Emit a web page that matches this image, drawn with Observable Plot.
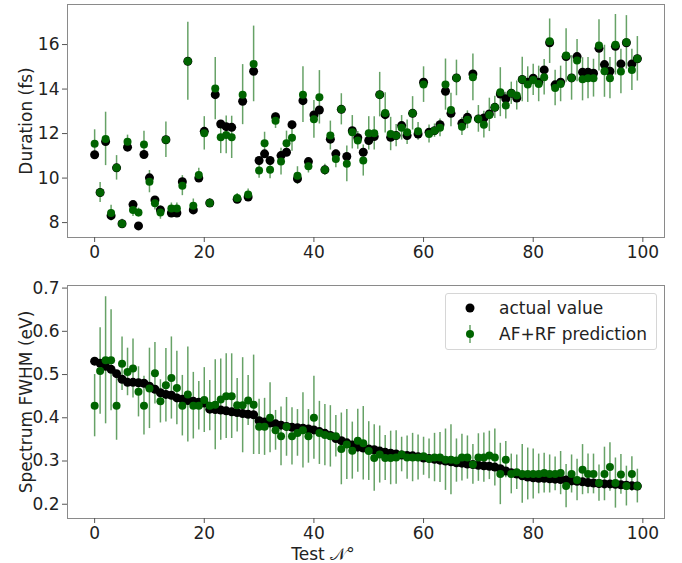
<!DOCTYPE html>
<html><head><meta charset="utf-8">
<script src="https://cdn.jsdelivr.net/npm/d3@7"></script>
<script src="https://cdn.jsdelivr.net/npm/@observablehq/plot@0.6"></script>
<style>
body{margin:0;background:#fff;font-family:"DejaVu Sans",sans-serif;}
#wrap{position:relative;width:682px;height:563px;overflow:hidden;}
#wrap > svg{position:absolute;left:0;}
.legend{position:absolute;left:445px;top:293px;width:210px;height:55px;border:1px solid #d6d6d6;border-radius:3px;background:#fff;font-size:17px;color:#222;}
.legend .row{position:absolute;left:0;height:22px;line-height:22px;white-space:nowrap;}
.legend svg{position:absolute;left:14px;top:0;}
.legend span{position:absolute;left:53px;top:0;}
</style></head>
<body>
<div id="wrap"></div>
<script>
const testNo = d3.range(100);
const xTicks = [0, 20, 40, 60, 80, 100];
const durTicks = [8, 10, 12, 14, 16];
const fwhmTicks = [0.2, 0.3, 0.4, 0.5, 0.6, 0.7];

// Duration (fs): actual values
const durActual = [11.05,9.35,11.64,8.31,10.46,7.95,11.39,8.81,7.85,11.06,
10.01,9.02,8.57,11.72,8.43,8.43,9.84,15.25,8.57,10.0,
12.1,8.88,13.75,12.43,12.31,12.28,9.05,13.45,9.15,14.8,
10.79,11.09,10.79,12.76,11.01,11.16,12.4,9.97,13.48,10.74,
12.84,13.06,10.37,11.75,11.09,13.09,10.97,12.13,11.81,11.16,
11.69,11.87,13.75,12.85,11.83,11.91,12.36,11.91,12.91,11.98,
14.31,12.06,12.13,12.4,13.9,12.91,14.5,12.46,12.73,14.68,
12.66,12.7,12.88,13.18,13.78,13.56,13.81,13.6,14.43,14.31,
14.49,14.31,14.86,16.08,14.19,14.31,15.46,14.5,15.46,14.76,
14.76,14.71,15.83,15.1,14.8,15.92,15.13,16.08,15.13,15.36];
// Duration (fs): AF+RF prediction
const durPred = [11.54,9.35,11.76,8.43,10.46,7.95,11.63,8.57,8.45,11.51,
9.84,8.87,8.45,11.72,8.63,8.63,9.66,15.25,8.76,10.14,
12.01,8.88,14.02,11.83,11.94,11.83,9.11,13.75,9.26,15.13,
10.34,11.56,10.37,12.58,10.74,11.56,11.81,10.11,13.75,10.53,
12.64,13.63,10.37,11.91,10.86,13.09,10.64,12.06,11.69,10.79,
12.01,12.01,13.75,12.93,11.98,11.91,12.26,12.06,12.91,12.1,
14.2,11.98,12.13,12.26,14.2,13.06,14.5,12.31,12.62,14.53,
12.66,12.4,12.84,13.18,13.86,13.26,13.81,13.71,14.43,14.2,
14.41,14.23,14.53,16.15,14.05,14.23,15.51,14.5,15.28,14.44,
14.49,14.49,15.96,14.8,14.49,15.99,14.79,16.1,14.86,15.36];
// Duration (fs): prediction uncertainty (half-length)
const durErr = [0.63,0.45,1.2,0.35,0.55,0.2,0.3,0.3,0.2,0.6,
0.5,0.3,0.3,0.8,0.25,0.25,0.45,1.75,0.3,0.3,
0.75,0.2,1.4,0.73,0.85,0.95,0.2,1.35,0.25,1.7,
0.35,0.5,0.4,0.35,0.6,0.55,0.6,0.4,1.25,0.3,
0.85,1.2,0.25,0.65,0.4,0.7,0.8,0.75,0.4,0.7,
0.75,0.75,1.0,0.9,0.75,0.5,0.55,0.55,0.75,0.4,
0.8,0.4,0.3,0.4,1.15,0.75,0.8,0.4,0.4,1.05,
0.6,0.6,0.75,0.5,1.1,0.6,0.5,0.65,1.0,0.8,
0.7,0.8,0.8,1.0,0.8,0.8,1.2,1.0,0.95,0.97,
0.93,0.85,1.15,1.17,0.93,1.36,1.0,1.2,0.93,1.0];

// Spectrum FWHM (eV): actual values
const fwhmActual = [0.531,0.526,0.519,0.512,0.502,0.489,0.482,0.482,0.481,0.480,
0.473,0.466,0.458,0.454,0.452,0.446,0.443,0.440,0.438,0.436,
0.434,0.420,0.419,0.418,0.416,0.414,0.412,0.410,0.408,0.407,
0.393,0.390,0.388,0.386,0.383,0.380,0.378,0.377,0.376,0.374,
0.372,0.368,0.364,0.359,0.352,0.347,0.342,0.337,0.332,0.330,
0.328,0.326,0.323,0.320,0.318,0.316,0.314,0.313,0.312,0.310,
0.307,0.306,0.304,0.302,0.300,0.298,0.296,0.295,0.293,0.292,
0.290,0.289,0.288,0.286,0.282,0.277,0.273,0.270,0.266,0.263,
0.261,0.260,0.260,0.259,0.258,0.257,0.256,0.254,0.253,0.252,
0.250,0.249,0.248,0.247,0.247,0.246,0.245,0.244,0.243,0.242];
// Spectrum FWHM (eV): AF+RF prediction
const fwhmPred = [0.428,0.508,0.533,0.533,0.428,0.525,0.506,0.514,0.460,0.428,
0.468,0.503,0.438,0.475,0.492,0.469,0.428,0.454,0.428,0.428,
0.441,0.428,0.430,0.442,0.450,0.450,0.429,0.429,0.440,0.430,
0.379,0.379,0.400,0.371,0.357,0.379,0.357,0.365,0.371,0.357,
0.400,0.365,0.360,0.357,0.357,0.328,0.338,0.324,0.347,0.341,
0.323,0.307,0.315,0.307,0.307,0.308,0.315,0.308,0.308,0.308,
0.311,0.305,0.308,0.308,0.303,0.303,0.301,0.308,0.308,0.292,
0.308,0.308,0.313,0.308,0.270,0.303,0.270,0.274,0.270,0.270,
0.270,0.270,0.272,0.270,0.270,0.272,0.242,0.270,0.256,0.280,
0.270,0.270,0.249,0.270,0.286,0.249,0.269,0.242,0.270,0.242];
// Spectrum FWHM (eV): prediction uncertainty (half-length)
const fwhmErr = [0.072,0.100,0.147,0.117,0.080,0.062,0.055,0.068,0.058,0.068,
0.093,0.071,0.050,0.085,0.095,0.085,0.070,0.110,0.077,0.056,
0.075,0.058,0.104,0.094,0.098,0.098,0.062,0.110,0.058,0.115,
0.064,0.066,0.081,0.046,0.068,0.068,0.066,0.054,0.087,0.062,
0.096,0.073,0.071,0.071,0.048,0.083,0.081,0.066,0.073,0.085,
0.068,0.077,0.066,0.052,0.062,0.062,0.040,0.050,0.056,0.052,
0.044,0.046,0.056,0.058,0.071,0.081,0.050,0.054,0.050,0.046,
0.055,0.057,0.056,0.066,0.071,0.042,0.046,0.040,0.068,0.060,
0.058,0.046,0.046,0.044,0.039,0.050,0.050,0.044,0.048,0.058,
0.046,0.046,0.042,0.062,0.056,0.058,0.046,0.046,0.040,0.039];

const seriesNames = ["actual value", "AF+RF prediction"];
const axisLabels = ["Duration (fs)", "Spectrum FWHM (eV)", "Test 𝒩°"];

const GREEN = "#006400";
const common = {
  width: 682, marginLeft: 67, marginRight: 18,
  style: {fontFamily: "DejaVu Sans, sans-serif", fontSize: "17px", color: "#222", background: "transparent", overflow: "visible"}
};

function panel(actual, pred, err, yDomain, yTicks, yLabel, height, mTop, mBottom, fmt, xLabel) {
  const marks = [
    Plot.frame({stroke: "#8a8a8a", strokeWidth: 1}),
    Plot.axisX({ticks: xTicks, tickSize: 5, tickPadding: 3, label: null, stroke: "#555", fontSize: 17}),
    Plot.axisY({ticks: yTicks, tickSize: 5, tickPadding: 3, label: null, stroke: "#555", fontSize: 17, tickFormat: fmt}),
    Plot.text([yLabel], {frameAnchor: "left", textAnchor: "middle", lineAnchor: "middle", dx: -41, rotate: -90, fontSize: 17, fill: "#222"}),
    Plot.ruleX(testNo, {x: i => i, y1: i => pred[i] - err[i], y2: i => pred[i] + err[i], stroke: GREEN, strokeOpacity: 0.6, strokeWidth: 1.5}),
    Plot.dot(testNo, {x: i => i, y: i => actual[i], r: 4.5, fill: "black"}),
    Plot.dot(testNo, {x: i => i, y: i => pred[i], r: 4, fill: GREEN})
  ];
  if (xLabel) marks.push(Plot.text([xLabel], {frameAnchor: "bottom", textAnchor: "middle", lineAnchor: "middle", dx: -43, dy: 36, fontSize: 17, fill: "#222"}));
  return Plot.plot({
    ...common, height, marginTop: mTop, marginBottom: mBottom,
    x: {domain: [-4.95, 103.95]},
    y: {domain: yDomain},
    marks
  });
}

const wrap = document.getElementById("wrap");
const p1 = panel(durActual, durPred, durErr, [7.33, 17.8], durTicks, axisLabels[0], 262, 4, 25, d3.format("d"), null);
p1.style.top = "0px";
const p2 = panel(fwhmActual, fwhmPred, fwhmErr, [0.167, 0.706], fwhmTicks, axisLabels[1], 301, 23, 45, d3.format(".1f"), axisLabels[2]);
p2.style.top = "262px";
wrap.appendChild(p1);
wrap.appendChild(p2);

// legend
const leg = document.createElement("div");
leg.className = "legend";
const rows = [{y: 3, err: false}, {y: 29, err: true}];
rows.forEach((r, k) => {
  const row = document.createElement("div");
  row.className = "row";
  row.style.top = r.y + "px";
  row.style.width = "100%";
  const svg = d3.create("svg").attr("width", 22).attr("height", 22);
  if (r.err) svg.append("line").attr("x1", 10).attr("x2", 10).attr("y1", 2).attr("y2", 20).attr("stroke", GREEN).attr("stroke-opacity", 0.6).attr("stroke-width", 1.5);
  svg.append("circle").attr("cx", 10).attr("cy", 11).attr("r", r.err ? 4 : 4.5).attr("fill", r.err ? GREEN : "black");
  row.appendChild(svg.node());
  const sp = document.createElement("span");
  sp.textContent = seriesNames[k];
  row.appendChild(sp);
  leg.appendChild(row);
});
wrap.appendChild(leg);
</script>
</body></html>
